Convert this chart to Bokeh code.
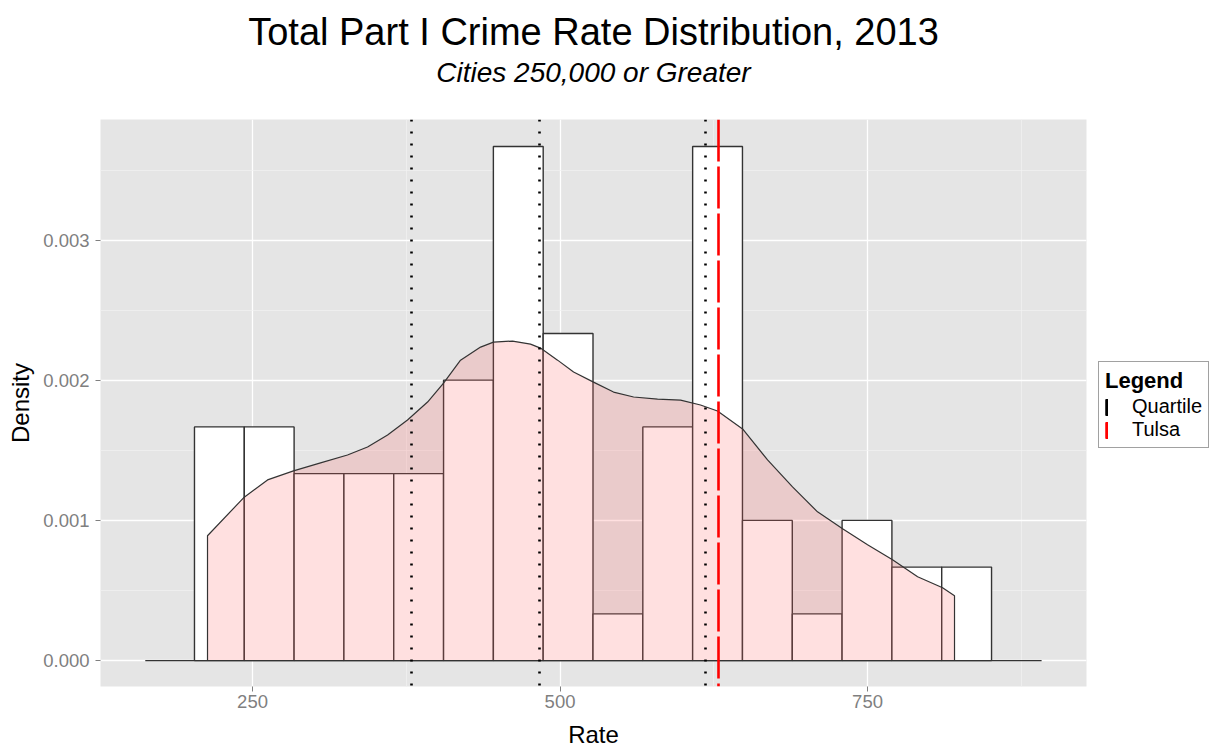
from bokeh.plotting import figure
from bokeh.layouts import row
from bokeh.models import (Range1d, FixedTicker, NumeralTickFormatter, Title,
                          Legend, LegendItem)
from bokeh.core.properties import value
from bokeh.embed import file_html
from bokeh.resources import INLINE

# Histogram of Total Part I crime rates, cities of 250,000 or more (2013)
bin_edges = [202.8, 243.3, 283.8, 324.3, 364.8, 405.3, 445.8, 486.3, 526.8,
             567.3, 607.8, 648.3, 688.8, 729.3, 769.8, 810.3, 850.8]
bin_counts = [5, 5, 4, 4, 4, 6, 11, 7, 1, 5, 11, 3, 1, 3, 2, 2]

# Kernel density estimate sampled along the rate axis
kde_rate = [213.4, 242.7, 262.2, 283.3, 305.3, 327.2, 343.5, 359.8, 376.0,
            392.3, 405.3, 419.1, 435.4, 445.9, 461.4, 476.0, 484.1, 498.0,
            511.0, 527.2, 543.5, 559.8, 579.3, 598.0, 614.2, 628.0, 648.4,
            668.7, 689.0, 709.3, 729.7, 750.0, 770.3, 790.7, 811.0, 820.7]
kde_density = [0.000891, 0.001162, 0.001290, 0.001354, 0.001411, 0.001468,
               0.001525, 0.001611, 0.001718, 0.001846, 0.001981, 0.002145,
               0.002238, 0.002274, 0.002281, 0.002259, 0.002231, 0.002145,
               0.002060, 0.001988, 0.001917, 0.001882, 0.001867, 0.001860,
               0.001825, 0.001782, 0.001654, 0.001433, 0.001240, 0.001062,
               0.000941, 0.000827, 0.000720, 0.000599, 0.000520, 0.000463]

# Zero line under the density layer
baseline_rate = [162.8, 891.5]

quartile_rates = [379.3, 482.9, 617.9]
tulsa_rate = [628.9]

x_ticks = [250, 500, 750]
x_minor_ticks = [125, 375, 625, 875]
y_ticks = [0.000, 0.001, 0.002, 0.003]
y_minor_ticks = [0.0005, 0.0015, 0.0025, 0.0035]

legend_labels = ["Quartile", "Tulsa"]
legend_colors = ["black", "red"]

FONT = "Liberation Sans"

p = figure(width=1098, height=750, output_backend="svg", toolbar_location=None,
           x_range=Range1d(126.4, 928.0), y_range=Range1d(-0.000185, 0.003863),
           min_border_left=100, min_border_right=12, min_border_top=119,
           min_border_bottom=63, background_fill_color="#E5E5E5",
           border_fill_color="white", outline_line_color=None)

# Histogram bars (density scaled)
left = bin_edges[:-1]
right = bin_edges[1:]
n_total = sum(bin_counts)
bar_density = [c / (n_total * (r - l)) for c, l, r in zip(bin_counts, left, right)]
p.quad(left=left, right=right, bottom=0, top=bar_density,
       fill_color="white", line_color="#333333", line_width=1.4)

# Density curve with translucent fill
p.varea(x=kde_rate, y1=0, y2=kde_density, fill_color="#FF6666", fill_alpha=0.2)
outline_x = [kde_rate[0]] + kde_rate + [kde_rate[-1]]
outline_y = [0] + kde_density + [0]
p.line(outline_x, outline_y, line_color="#333333", line_width=1.2)
p.line(baseline_rate, [0, 0], line_color="#333333", line_width=1.2)

# Reference lines
p.vspan(x=quartile_rates, line_color=legend_colors[0], line_width=2.6,
        line_dash=value("2 10"))
p.vspan(x=tulsa_rate, line_color=legend_colors[1], line_width=2.6,
        line_dash=value("42 5"))

# Axes
p.xaxis.ticker = FixedTicker(ticks=x_ticks, minor_ticks=x_minor_ticks)
p.yaxis.ticker = FixedTicker(ticks=y_ticks, minor_ticks=y_minor_ticks)
p.xaxis.formatter = NumeralTickFormatter(format="0")
p.yaxis.formatter = NumeralTickFormatter(format="0.000")
p.xaxis.axis_label = "Rate"
p.yaxis.axis_label = "Density"
for ax in (p.xaxis[0], p.yaxis[0]):
    ax.axis_line_color = None
    ax.major_tick_line_color = "#7F7F7F"
    ax.major_tick_out = 5
    ax.major_tick_in = 0
    ax.minor_tick_line_color = None
    ax.major_label_text_color = "#7F7F7F"
    ax.major_label_text_font = FONT
    ax.major_label_text_font_size = "18.5px"
    ax.axis_label_text_font = FONT
    ax.axis_label_text_font_size = "24px"
    ax.axis_label_text_font_style = "normal"
    ax.axis_label_text_color = "black"
p.xaxis.major_label_standoff = 3
p.xaxis.axis_label_standoff = 10
p.yaxis.major_label_standoff = 6
p.yaxis.axis_label_standoff = 6

# Grid
for g in (p.xgrid[0], p.ygrid[0]):
    g.grid_line_color = "white"
    g.grid_line_width = 1.3
    g.minor_grid_line_color = "#F2F2F2"
    g.minor_grid_line_width = 0.7

# Titles: subtitle sits next to the frame, main title above it
p.add_layout(Title(text="Cities 250,000 or Greater", align="center",
                   text_font=FONT, text_font_size="28px",
                   text_font_style="italic", text_color="black",
                   standoff=63), "above")
p.add_layout(Title(text="Total Part I Crime Rate Distribution, 2013",
                   align="center", text_font=FONT, text_font_size="38px",
                   text_font_style="normal", text_color="black",
                   standoff=-59), "above")

# Legend panel beside the plot
lg = figure(width=120, height=750, output_backend="svg", toolbar_location=None,
            x_range=Range1d(0, 1), y_range=Range1d(0, 1),
            x_axis_type=None, y_axis_type=None,
            min_border_left=0, min_border_right=0, min_border_top=0,
            min_border_bottom=0, background_fill_color="white",
            border_fill_color="white", outline_line_color=None)
lg.grid.visible = False
keys = [lg.quad(left=[float("nan")], right=[float("nan")], top=[float("nan")],
                bottom=[float("nan")], fill_color=c, line_color=c)
        for c in legend_colors]
legend = Legend(items=[LegendItem(label=t, renderers=[k])
                       for t, k in zip(legend_labels, keys)],
                title="Legend", location=(0, 238))
legend.title_text_font = FONT
legend.title_text_font_size = "22px"
legend.title_text_font_style = "bold"
legend.title_text_color = "black"
legend.title_standoff = 1
legend.label_text_font = FONT
legend.label_text_font_size = "20px"
legend.label_text_color = "black"
legend.glyph_width = 3
legend.glyph_height = 20
legend.label_height = 20
legend.label_standoff = 24
legend.spacing = 0
legend.padding = 6
legend.margin = 0
legend.border_line_color = "#444444"
legend.border_line_width = 1.2
legend.background_fill_color = "white"
legend.background_fill_alpha = 1.0
lg.add_layout(legend)

layout = row(p, lg, spacing=0)
open("out.html", "w").write(file_html(layout, INLINE))
